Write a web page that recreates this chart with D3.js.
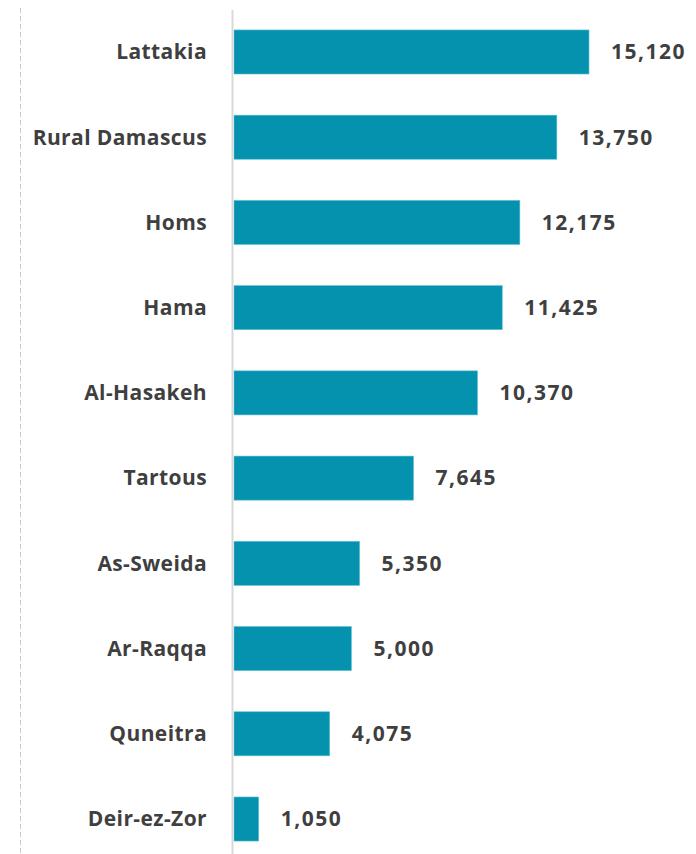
<!DOCTYPE html>
<html>
<head>
    <script src="https://d3js.org/d3.v7.min.js"></script>
    <style>
        body { margin: 0; background: #fff; }
        svg { display: block; }
        .label { font-family: "Open Sans", sans-serif; font-weight: 700; fill: #3f3f3f; }
    </style>
</head>
<body>
    <svg width="696" height="854"></svg>
    <script>
        var governorates = ["Lattakia", "Rural Damascus", "Homs", "Hama", "Al-Hasakeh",
                            "Tartous", "As-Sweida", "Ar-Raqqa", "Quneitra", "Deir-ez-Zor"];
        var values = [15120, 13750, 12175, 11425, 10370, 7645, 5350, 5000, 4075, 1050];

        var data = governorates.map(function(g, i) { return {name: g, value: values[i]}; });

        var svg = d3.select("svg");

        var x = d3.scaleLinear().domain([0, 15120]).range([234, 589]);
        var y = d3.scaleBand()
            .domain(governorates)
            .range([9.5, 861.5])
            .paddingInner(0.483)
            .paddingOuter(0.24);

        // dashed line on the far left
        svg.append("line")
            .attr("x1", 20.5).attr("x2", 20.5)
            .attr("y1", 8).attr("y2", 854)
            .attr("stroke", "#c8c8c8")
            .attr("stroke-width", 1)
            .attr("stroke-dasharray", "5,3");

        svg.selectAll(".bar")
            .data(data)
            .enter().append("rect")
            .attr("class", "bar")
            .attr("x", x(0))
            .attr("y", function(d) { return y(d.name); })
            .attr("width", function(d) { return x(d.value) - x(0); })
            .attr("height", y.bandwidth())
            .attr("fill", "#0592ae")
            .attr("stroke", "#5cc0d4")
            .attr("stroke-width", 0.6);

        // category axis line
        svg.append("line")
            .attr("x1", 232.5).attr("x2", 232.5)
            .attr("y1", 10).attr("y2", 854)
            .attr("stroke", "#d9d9d9")
            .attr("stroke-width", 2);

        svg.selectAll(".cat")
            .data(data)
            .enter().append("text")
            .attr("class", "label")
            .attr("x", 207)
            .attr("y", function(d) { return y(d.name) + y.bandwidth() / 2; })
            .attr("dy", "0.35em")
            .attr("text-anchor", "end")
            .style("font-size", "21px")
            .style("letter-spacing", "0.4px")
            .text(function(d) { return d.name; });

        svg.selectAll(".val")
            .data(data)
            .enter().append("text")
            .attr("class", "label")
            .attr("x", function(d) { return x(d.value) + 22; })
            .attr("y", function(d) { return y(d.name) + y.bandwidth() / 2; })
            .attr("dy", "0.35em")
            .style("font-size", "21px")
            .style("letter-spacing", "1.5px")
            .text(function(d) { return d3.format(",")(d.value); });
    </script>
</body>
</html>
